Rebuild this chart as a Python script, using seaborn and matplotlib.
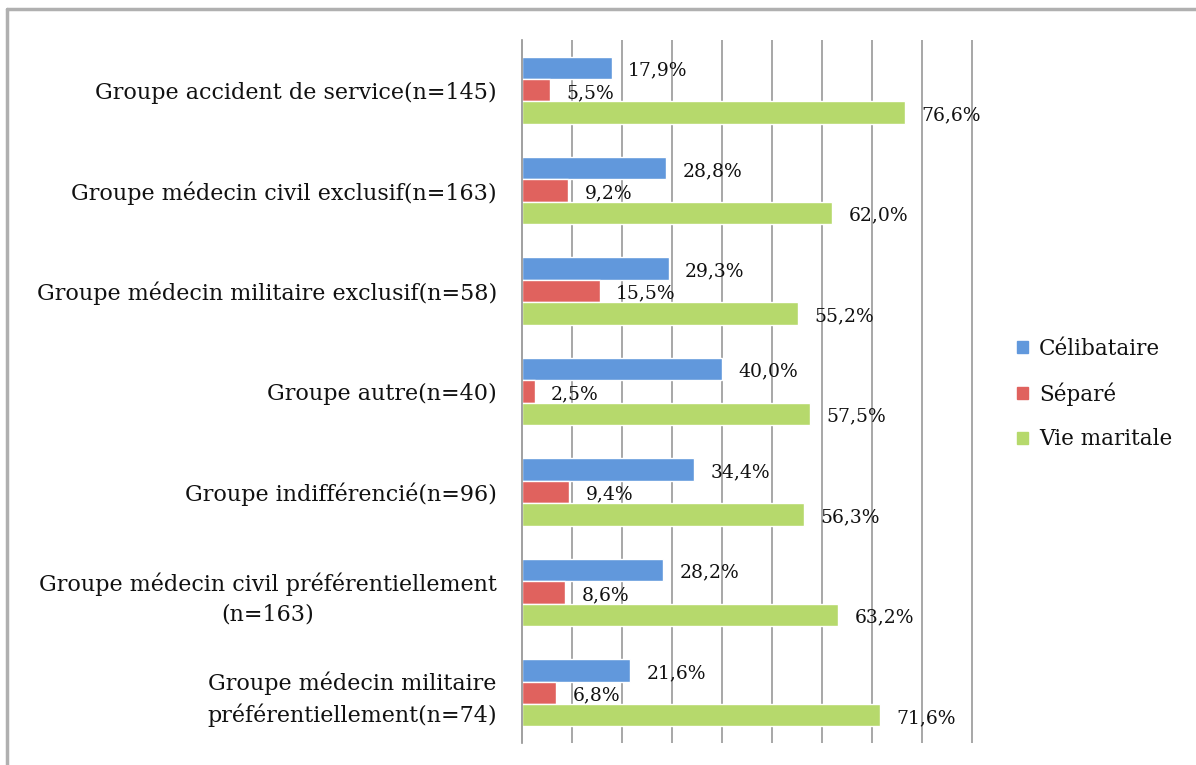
import pandas as pd
import numpy as np
import matplotlib
matplotlib.use('Agg')
import matplotlib.pyplot as plt
import seaborn as sns
from matplotlib.lines import Line2D

# data
groupes = ['Groupe accident de service(n=145)',
           'Groupe médecin civil exclusif(n=163)',
           'Groupe médecin militaire exclusif(n=58)',
           'Groupe autre(n=40)',
           'Groupe indifférencié(n=96)',
           'Groupe médecin civil préférentiellement\n(n=163)',
           'Groupe médecin militaire\npréférentiellement(n=74)']
series = ['Célibataire', 'Séparé', 'Vie maritale']
celibataire = [17.9, 28.8, 29.3, 40.0, 34.4, 28.2, 21.6]
separe = [5.5, 9.2, 15.5, 2.5, 9.4, 8.6, 6.8]
vie_maritale = [76.6, 62.0, 55.2, 57.5, 56.3, 63.2, 71.6]
couleurs = ['#6198dc', '#e0625e', '#b6d96c']

df = pd.DataFrame({'groupe': groupes * 3,
                   'statut': [s for s in series for _ in groupes],
                   'pct': celibataire + separe + vie_maritale})

sns.set_style('white')
plt.rcParams['font.family'] = ['DejaVu Serif']
plt.rcParams['text.color'] = '#111111'
plt.rcParams['ytick.labelcolor'] = '#111111'

fig = plt.figure(figsize=(11.96, 7.65), dpi=100)
ax = fig.add_axes([522/1196, 1 - 743/765, 452/1196, 703/765])

sns.barplot(data=df, x='pct', y='groupe', hue='statut', order=groupes,
            hue_order=series, palette=couleurs, width=0.67, orient='h',
            saturation=1, ax=ax, legend=False)

for cont in ax.containers:
    for bar in cont:
        v = bar.get_width()
        ax.annotate(f'{v:.1f}%'.replace('.', ','),
                    (v, bar.get_y() + bar.get_height() / 2),
                    xytext=(12, -2), textcoords='offset points',
                    va='center', ha='left', fontsize=13.5, color='#111111')

ax.set_xlim(0, 90.4)
ax.set_xticks(np.arange(10, 91, 10))
ax.set_xticklabels([])
ax.tick_params(axis='x', length=0)
ax.grid(axis='x', color='#a0a0a0', lw=1.3)
ax.set_axisbelow(True)
ax.set_xlabel('')
ax.set_ylabel('')

# category boundary ticks on the y axis
ax.set_yticks(np.arange(-0.5, len(groupes), 1), minor=True)
ax.tick_params(axis='y', which='minor', length=7, width=1.2, color='#909090', direction='out')
ax.tick_params(axis='y', which='major', length=0, pad=18, labelsize=16, labelcolor='#111111')
for lab in ax.get_yticklabels():
    lab.set_multialignment('center')
    lab.set_linespacing(1.45)

for s in ['top', 'right', 'bottom']:
    ax.spines[s].set_visible(False)
ax.spines['left'].set_color('#909090')
ax.spines['left'].set_linewidth(1.2)

handles = [plt.Rectangle((0, 0), 1, 1, color=c) for c in couleurs]
fig.legend(handles, series, loc='center left', bbox_to_anchor=(998/1196, 1 - 394/765),
           frameon=False, fontsize=15.5, handlelength=0.5, handleheight=0.5,
           handletextpad=0.5, labelspacing=1.05, labelcolor='#111111')

# outer frame
fig.add_artist(Line2D([7/1196, 7/1196], [0, 1 - 9/765], color='#b0b0b0', lw=2.5))
fig.add_artist(Line2D([7/1196, 1], [1 - 9/765, 1 - 9/765], color='#b0b0b0', lw=2.5))

fig.savefig('out.png', dpi=100)
